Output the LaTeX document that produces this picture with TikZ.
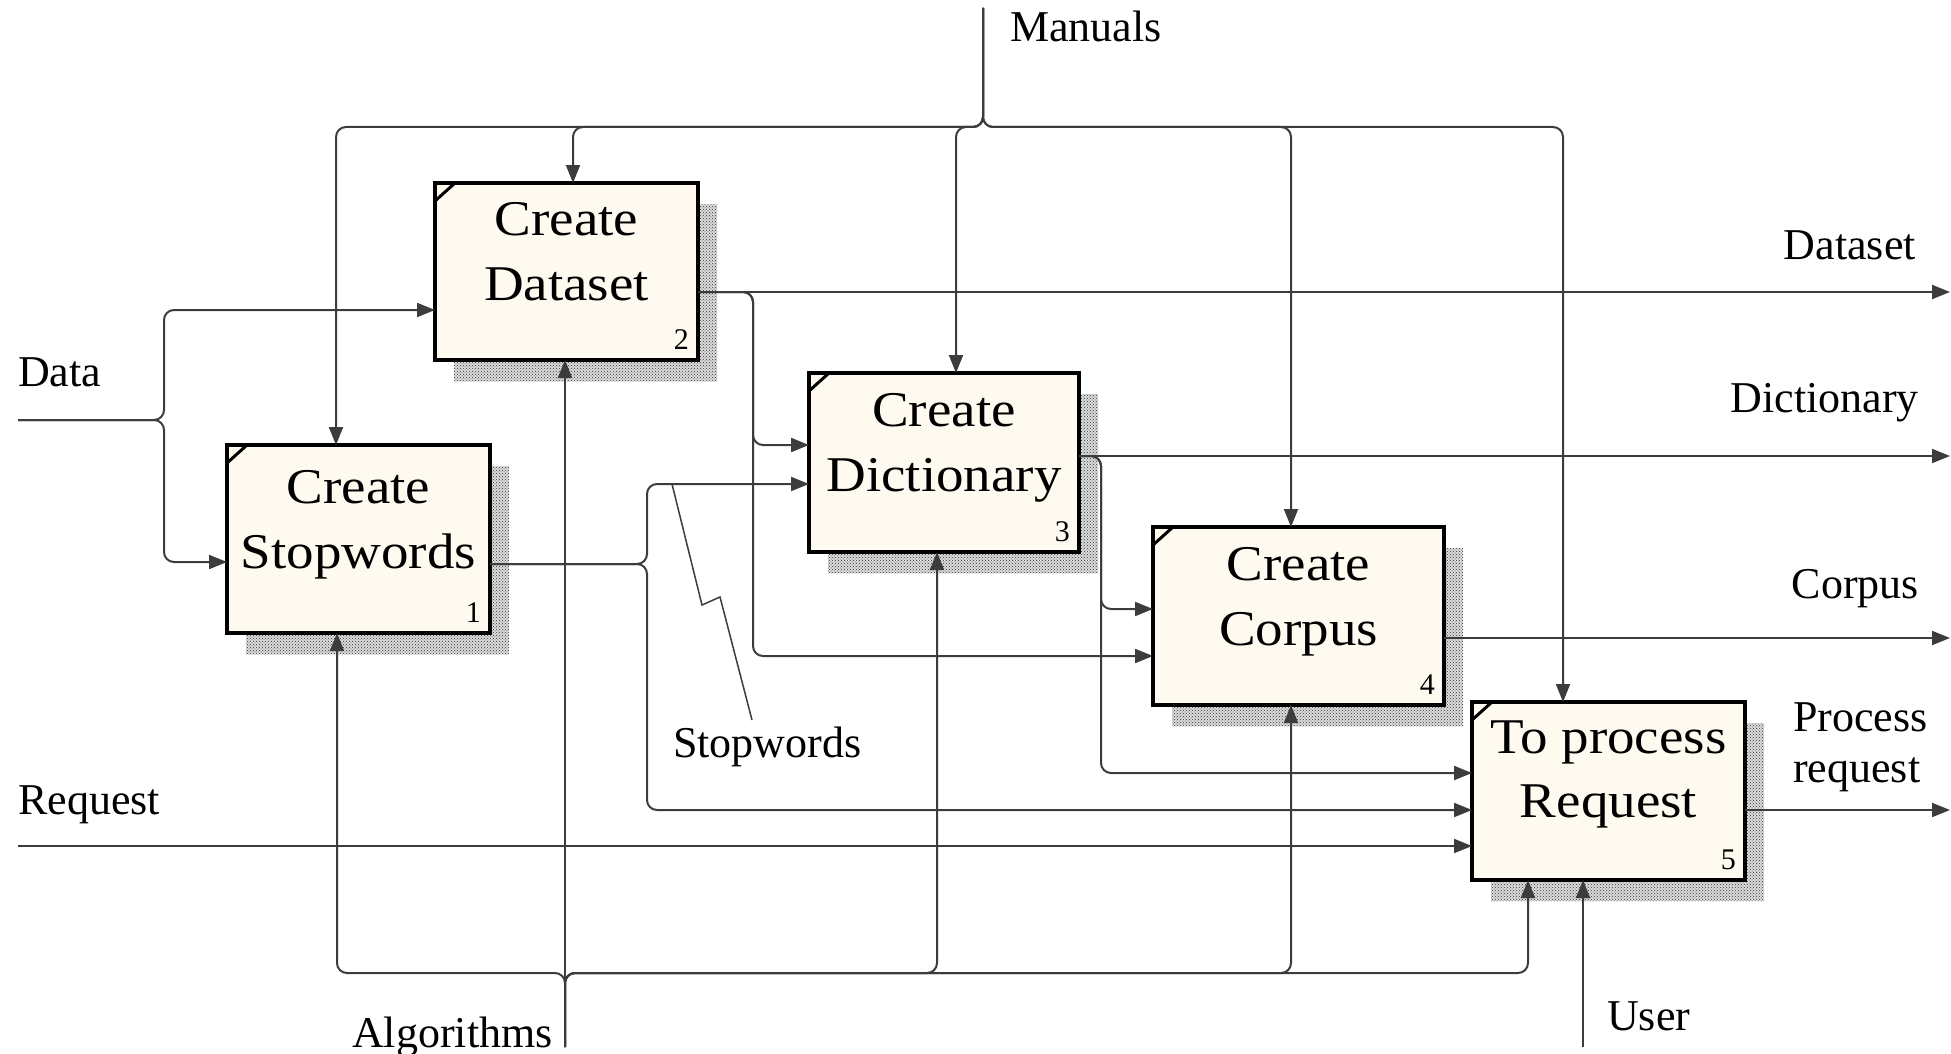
\documentclass[tikz,border=0pt]{standalone}
\usepackage{fontspec}
\setmainfont{Liberation Serif}
\newfontfamily\boxfont[FakeStretch=1.1]{Liberation Serif}
\usetikzlibrary{arrows.meta,patterns,backgrounds,calc}
\definecolor{boxfill}{RGB}{255,250,240}
\definecolor{linegray}{RGB}{60,60,60}
\tikzset{
  act/.style={draw=black, line width=4pt, fill=boxfill, inner sep=0pt, outer sep=0pt},
  boxtxt/.style={font=\boxfont\fontsize{50}{60}\selectfont, inner sep=0pt, anchor=base},
  num/.style={font=\fontsize{30}{34}\selectfont, inner sep=0pt, anchor=base east},
  lbl/.style={font=\fontsize{44}{51}\selectfont, inner sep=0pt},
  flow/.style={draw=linegray, line width=2pt, rounded corners=10pt},
  arr/.style={flow, -{Triangle[length=18pt,width=14pt]}},
  tick/.style={draw=black, line width=3pt},
  shadebase/.style={fill=black!14},
  shade/.style={pattern=crosshatch dots, pattern color=black!80}
}
\begin{document}
\begin{tikzpicture}[x=1pt,y=-1pt]
\useasboundingbox (0,0) rectangle (1951,1054);

% activity boxes
\node[act, minimum width=263pt, minimum height=188pt] (b1) at (358.5,539) {};
\node[act, minimum width=263pt, minimum height=177pt] (b2) at (566.5,271.5) {};
\node[act, minimum width=270pt, minimum height=179pt] (b3) at (944,462.5) {};
\node[act, minimum width=291pt, minimum height=178pt] (b4) at (1298.5,616) {};
\node[act, minimum width=273pt, minimum height=178pt] (b5) at (1608.5,791) {};

% box titles
\node[boxtxt] (b1a) at ($(b1.center)+(0,-36)$) {Create};
\node[boxtxt] (b1b) at ($(b1.center)+(0,29)$) {Stopwords};
\node[boxtxt] (b2a) at ($(b2.center)+(0,-36)$) {Create};
\node[boxtxt] (b2b) at ($(b2.center)+(0,29)$) {Dataset};
\node[boxtxt] (b3a) at ($(b3.center)+(0,-36)$) {Create};
\node[boxtxt] (b3b) at ($(b3.center)+(0,29)$) {Dictionary};
\node[boxtxt] (b4a) at ($(b4.center)+(0,-36)$) {Create};
\node[boxtxt] (b4b) at ($(b4.center)+(0,29)$) {Corpus};
\node[boxtxt] (b5a) at ($(b5.center)+(0,-38)$) {To process};
\node[boxtxt] (b5b) at ($(b5.center)+(0,26)$) {Request};

% box numbers and corner ticks
\foreach \b/\n in {b1/1,b2/2,b3/3,b4/4,b5/5}{
  \node[num] (\b n) at ($(\b.south east)+(-9,-11)$) {\n};
  \draw[tick] ($(\b.north west)+(0,18)$) -- ($(\b.north west)+(20,0)$);
}

% drop shadows
\begin{scope}[on background layer]
\foreach \b in {b1,b2,b3,b4,b5}{
  \fill[shadebase] ($(\b.south west)+(19,21)$) rectangle ($(\b.north east)+(19,21)$);
  \fill[shade] ($(\b.south west)+(19,21)$) rectangle ($(\b.north east)+(19,21)$);
}
\end{scope}

% free ends of the boundary arrows
\coordinate (dataIn) at (18,420);
\coordinate (reqIn) at (18,846);
\coordinate (manIn) at (983,8);
\coordinate (algIn) at (565,1047);
\coordinate (userIn) at (1583,1047);
\coordinate (dsOut) at (1950,292);
\coordinate (dictOut) at (1950,456);
\coordinate (corpOut) at (1950,638);
\coordinate (procOut) at (1950,810);

% inputs
\draw[arr] (dataIn) -- (164,420) -- (164,310) -- (b2.west |- 0,310);
\draw[arr] (dataIn) -- (164,420) -- (164,562) -- (b1.west |- 0,562);
\draw[arr] (reqIn) -- (b5.west |- 0,846);

% controls
\foreach \x/\b in {336/b1,573/b2,956/b3,1291/b4,1563/b5}
  \draw[arr] (manIn) -- (983,127) -- (\x,127) -- (\x,0 |- \b.north);

% mechanisms
\draw[arr] (algIn) -- (565,0 |- b2.south);
\foreach \x/\b in {337/b1,937/b3,1291/b4,1528/b5}
  \draw[arr] (algIn) -- (565,973) -- (\x,973) -- (\x,0 |- \b.south);
\draw[arr] (userIn) -- (1583,0 |- b5.south);

% outputs of Create Dataset
\draw[arr] (b2.east |- 0,292) -- (dsOut);
\draw[arr] (b2.east |- 0,292) -- (753,292) -- (753,445) -- (b3.west |- 0,445);
\draw[arr] (b2.east |- 0,292) -- (753,292) -- (753,656) -- (b4.west |- 0,656);

% outputs of Create Stopwords
\draw[arr] (b1.east |- 0,564) -- (647,564) -- (647,484) -- (b3.west |- 0,484);
\draw[arr] (b1.east |- 0,564) -- (647,564) -- (647,810) -- (b5.west |- 0,810);

% outputs of Create Dictionary
\draw[arr] (b3.east |- 0,456) -- (dictOut);
\draw[arr] (b3.east |- 0,456) -- (1101,456) -- (1101,609) -- (b4.west |- 0,609);
\draw[arr] (b3.east |- 0,456) -- (1101,456) -- (1101,773) -- (b5.west |- 0,773);

% outputs of Create Corpus and To process Request
\draw[arr] (b4.east |- 0,638) -- (corpOut);
\draw[arr] (b5.east |- 0,810) -- (procOut);

% labels
\node[lbl, anchor=base west] (manL) at (1010,42) {Manuals};
\node[lbl, anchor=base east] (dsL) at (1916,259) {Dataset};
\node[lbl, anchor=base east] (dictL) at (1919,412) {Dictionary};
\node[lbl, anchor=base east] (corpL) at (1919,598) {Corpus};
\node[lbl, anchor=base west] (procL1) at (1793,731) {Process};
\node[lbl, anchor=base west] (procL2) at (1793,782) {request};
\node[lbl, anchor=base west] (dataL) at (18,386) {Data};
\node[lbl, anchor=base west] (reqL) at (18,814) {Request};
\node[lbl, anchor=base west] (algL) at (352,1047) {Algorithms};
\node[lbl, anchor=base west] (userL) at (1607,1030) {User};
\node[lbl, anchor=base west] (swL) at (673,757) {Stopwords};

% squiggle tying the Stopwords label to its arrow
\coordinate (swTip) at (672,484);
\draw[flow, rounded corners=0pt, line width=1.5pt] (swTip) -- (702,605) -- (720,597) -- (752,720);
\end{tikzpicture}
\end{document}
